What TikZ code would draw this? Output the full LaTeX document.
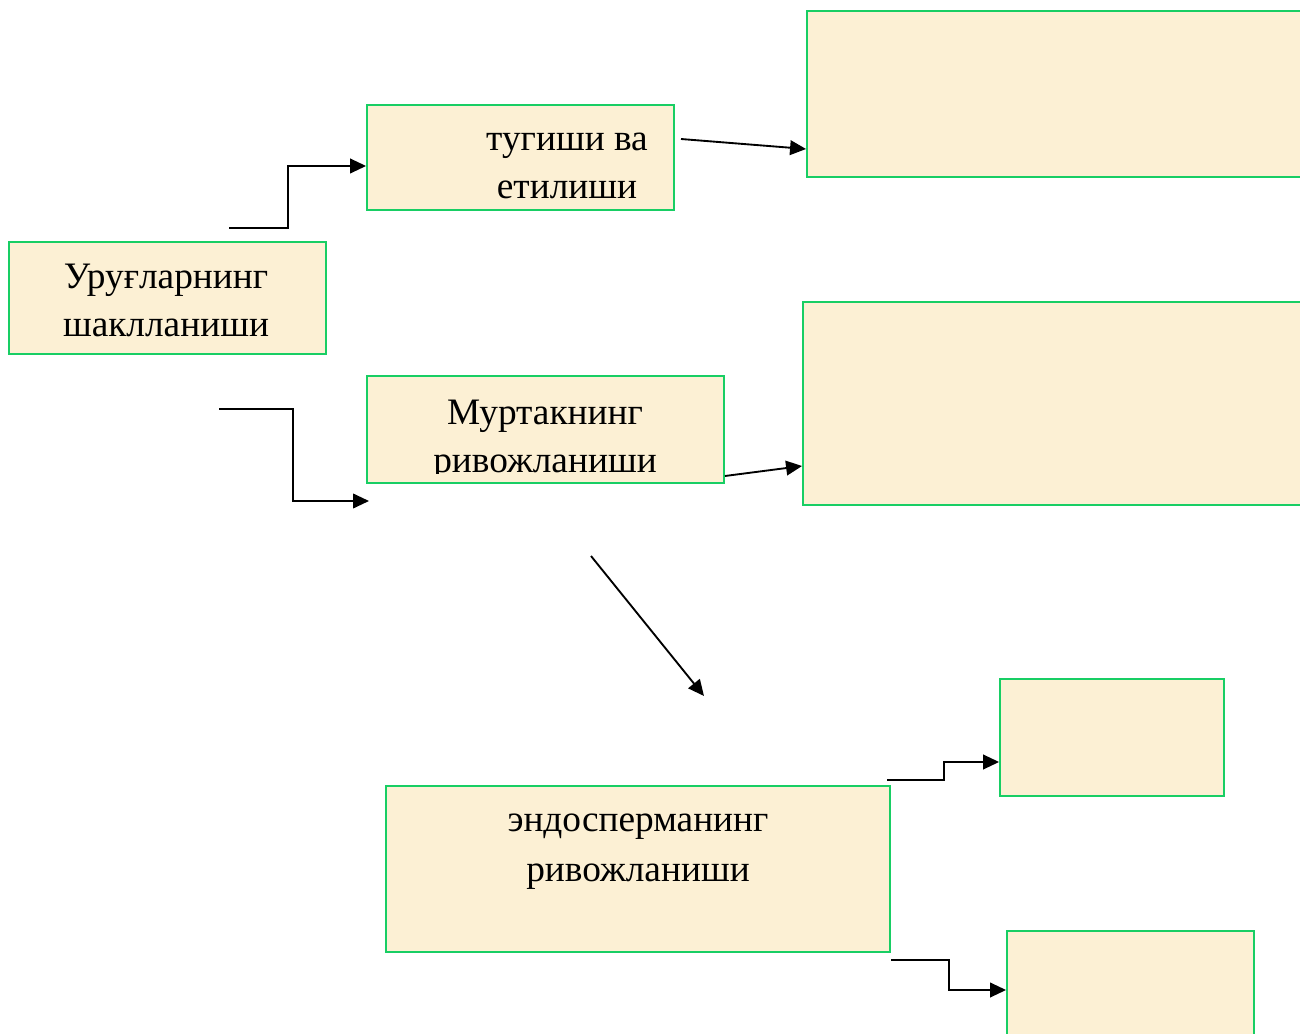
\documentclass[tikz,border=0pt]{standalone}
\usepackage{fontspec}
\setmainfont{Liberation Serif}
\usepackage{tikz}
\usetikzlibrary{arrows.meta,fit}
\definecolor{parchment}{RGB}{252,240,212}
\definecolor{boxgreen}{RGB}{24,206,100}

\begin{document}
\begin{tikzpicture}[x=0.75pt,y=-0.75pt,
        box/.style={draw=boxgreen,line width=1.4pt,fill=parchment,inner sep=0pt},
        txt/.style={font=\fontsize{28}{36}\selectfont,align=center,inner sep=0pt,anchor=base},
        arr/.style={line width=1.4pt,-{Triangle[length=12pt,width=11pt]}}]
    \clip (0,0) rectangle (1300,1034);
    % boxes
    \node[box,fit={(9,242) (326,354)}] (uruglar) {};
    \node[box,fit={(367,105) (674,210)}] (tugish) {};
    \node[box,fit={(807,11) (1320,177)}] (top) {};
    \node[box,fit={(367,376) (724,483)}] (murtak) {};
    \node[box,fit={(803,302) (1320,505)}] (middle) {};
    \node[box,fit={(1000,679) (1224,796)}] (upper) {};
    \node[box,fit={(386,786) (890,952)}] (endosperm) {};
    \node[box,fit={(1007,931) (1254,1050)}] (lower) {};
    % texts
    \node[txt] (t1) at (166,289) {Уруғларнинг};
    \node[txt] (t2) at (166,337) {шаклланиши};
    \node[txt] (t3) at (567,151) {тугиши ва};
    \node[txt] (t4) at (567,199) {етилиши};
    \node[txt] (t5) at (545,424) {Муртакнинг};
    \begin{scope}
        \clip (367,376) rectangle (724,473);
        \node[txt] (t6) at (545,472) {ривожланиши};
    \end{scope}
    \node[txt] (t7) at (638,831) {эндосперманинг};
    \node[txt] (t8) at (638,881) {ривожланиши};
    % free ends
    \coordinate (s1) at (229,228);
    \coordinate (s2) at (681,139);
    \coordinate (s3) at (219,409);
    \coordinate (e3) at (369,501);
    \coordinate (s5) at (591,556);
    \coordinate (e5) at (704,696);
    \coordinate (s6) at (887,780);
    \coordinate (s7) at (891,960);
    % arrows
    \draw[arr] (s1) -- (288,228) |- (tugish.west |- 0,166);
    \draw[arr] (s2) -- (top.west |- 0,149);
    \draw[arr] (s3) -- (293,409) |- (e3);
    \draw[arr] (murtak.east |- 0,476) -- (middle.west |- 0,466);
    \draw[arr] (s5) -- (e5);
    \draw[arr] (s6) -- (944,780) |- (upper.west |- 0,762);
    \draw[arr] (s7) -- (949,960) |- (lower.west |- 0,990);
\end{tikzpicture}
\end{document}
